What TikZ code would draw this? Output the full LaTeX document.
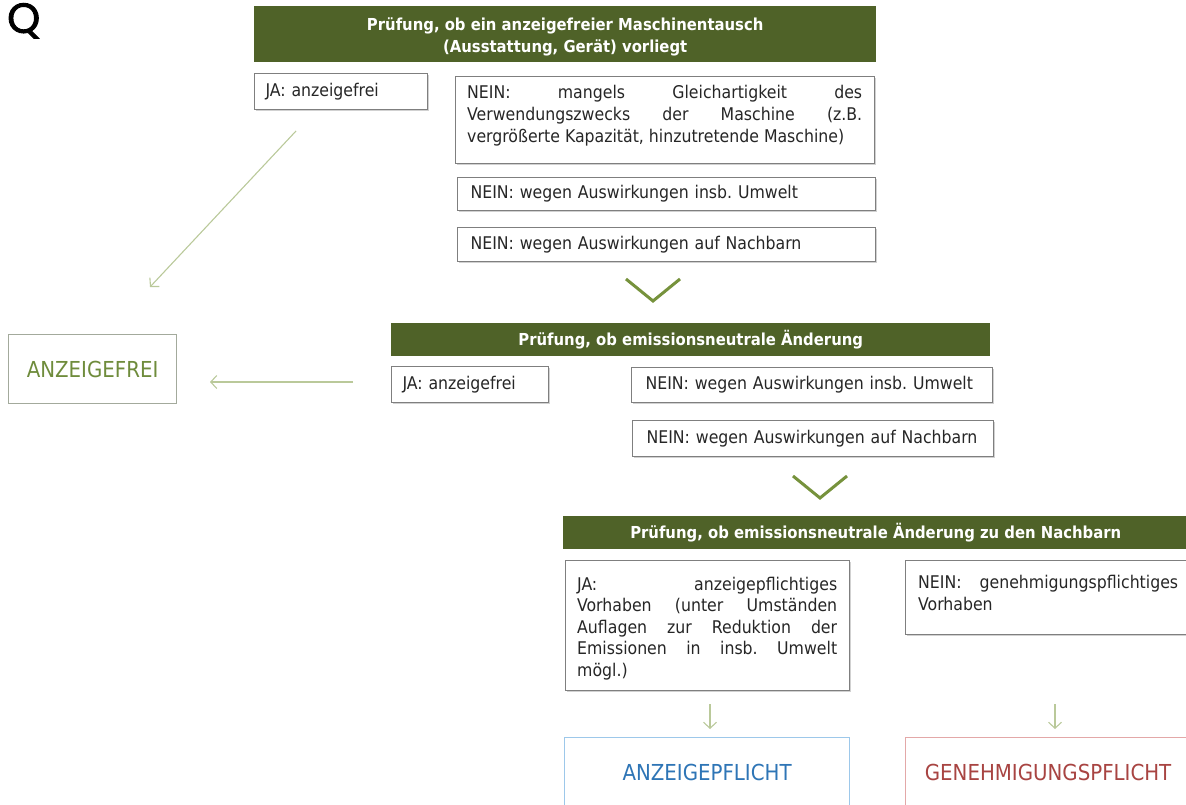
\documentclass[tikz,border=0pt]{standalone}
\usepackage{fontspec}
\setmainfont{DejaVu Sans Condensed}
\newfontfamily\qfamily[FakeBold=2.2]{Poppins}
\usetikzlibrary{arrows.meta,shadows}
\frenchspacing
\definecolor{hdrgreen}{HTML}{4F6228}
\definecolor{chevgreen}{HTML}{76923C}
\definecolor{arrowgreen}{HTML}{BAC99A}
\definecolor{boxgray}{HTML}{7F7F7F}
\definecolor{txtgray}{HTML}{262626}
\definecolor{afborder}{HTML}{A3AA9C}
\definecolor{aftext}{HTML}{6F8C3C}
\definecolor{apborder}{HTML}{9DC8EA}
\definecolor{aptext}{HTML}{2E75B6}
\definecolor{gpborder}{HTML}{E3A8A8}
\definecolor{gptext}{HTML}{A84442}
\newcommand\bfnt{\fontsize{17.5}{22}\selectfont}
\newcommand\jfnt{\fontsize{17.5}{21.5}\selectfont}
\newcommand\hfnt{\bfseries\fontsize{16.5}{22}\selectfont}
\newcommand\bigfnt{\fontsize{22}{26}\selectfont}
\newcommand\qfnt{\qfamily\fontsize{42}{44}\selectfont}
\tikzset{
  hdrbox/.style={fill=hdrgreen, text=white, font=\hfnt, anchor=north west, inner sep=0pt, align=center},
  plainbox/.style={draw=boxgray, line width=1.2pt, fill=white, anchor=north west, inner sep=0pt, text=txtgray,
    general shadow={fill=black!18, shadow xshift=1.5pt, shadow yshift=-1.5pt}},
  linebox/.style={plainbox, font=\bfnt, align=left},
  lbl/.style={font=\bfnt, text=txtgray, anchor=north west, inner sep=0pt, text width=#1, align=justify},
  resultbox/.style={line width=1.2pt, fill=white, anchor=north west, inner sep=0pt, font=\bigfnt, align=center},
  lightarrow/.style={draw=arrowgreen, line width=1.1pt, -{Straight Barb[length=6pt,width=13pt]}},
  chevron/.style={draw=chevgreen, line width=3pt},
}
\begin{document}
\begin{tikzpicture}[x=1pt,y=-1pt]
\useasboundingbox (0,0) rectangle (1186,805);
% Logo letter
\node[anchor=north west, inner sep=0pt, font=\qfnt] (q) at (7,3) {Q};
% Step 1
\node[hdrbox, minimum width=622pt, minimum height=56pt, text depth=0pt] (h1) at (254,6)
  {\rule{0pt}{14pt}Prüfung, ob ein anzeigefreier Maschinentausch\\(Ausstattung, Gerät) vorliegt};
\node[linebox, minimum width=173pt, minimum height=36pt, inner xsep=11pt, text width=151pt] (ja1) at (254,73) {JA: anzeigefrei};
\node[plainbox, minimum width=419pt, minimum height=87pt] (n1) at (455,76) {};
\node[lbl=395pt] (n1t) at (467,85) {NEIN: mangels Gleichartigkeit des\linebreak Verwendungszwecks der Maschine (z.B.\linebreak vergrößerte Kapazität, hinzutretende Maschine)};
\node[linebox, minimum width=418pt, minimum height=33pt, inner xsep=13pt, text width=392pt] (n2) at (457,177) {NEIN: wegen Auswirkungen insb. Umwelt};
\node[linebox, minimum width=418pt, minimum height=34pt, inner xsep=13pt, text width=392pt] (n3) at (457,227) {NEIN: wegen Auswirkungen auf Nachbarn};
\draw[chevron] (626,279) -- (653,301) -- (680,279);
% Result ANZEIGEFREI
\node[resultbox, draw=afborder, text=aftext, minimum width=168pt, minimum height=69pt] (af) at (8,334) {ANZEIGEFREI};
\coordinate (a1s) at (296,131);
\coordinate (a1e) at (150,287);
\draw[lightarrow] (a1s) -- (a1e);
% Step 2
\node[hdrbox, minimum width=599pt, minimum height=33pt] (h2) at (391,323) {Prüfung, ob emissionsneutrale Änderung};
\node[linebox, minimum width=157pt, minimum height=36pt, inner xsep=11pt, text width=135pt] (ja2) at (391,366) {JA: anzeigefrei};
\node[linebox, minimum width=361pt, minimum height=35pt, inner xsep=14pt, text width=333pt] (n4) at (631,367) {NEIN: wegen Auswirkungen insb. Umwelt};
\node[linebox, minimum width=361pt, minimum height=36pt, inner xsep=14pt, text width=333pt] (n5) at (632,420) {NEIN: wegen Auswirkungen auf Nachbarn};
\coordinate (a2s) at (353,382);
\coordinate (a2e) at (210,382);
\draw[lightarrow] (a2s) -- (a2e);
\draw[chevron] (793,476) -- (820,498) -- (847,476);
% Step 3
\node[hdrbox, minimum width=625pt, minimum height=33pt] (h3) at (563,516) {Prüfung, ob emissionsneutrale Änderung zu den Nachbarn};
\node[plainbox, minimum width=284pt, minimum height=130pt] (ja3) at (565,560) {};
\node[lbl=260pt, font=\jfnt] (ja3t) at (577,577) {JA: anzeigepflichtiges\linebreak Vorhaben (unter Umständen\linebreak Auflagen zur Reduktion der\linebreak Emissionen in insb. Umwelt\linebreak mögl.)};
\node[plainbox, minimum width=285pt, minimum height=74pt] (n6) at (905,560) {};
\node[lbl=260pt, font=\jfnt] (n6t) at (918,575) {NEIN: genehmigungspflichtiges\linebreak Vorhaben};
% Results
\node[resultbox, draw=apborder, text=aptext, minimum width=285pt, minimum height=70pt] (ap) at (564,737) {ANZEIGEPFLICHT};
\node[resultbox, draw=gpborder, text=gptext, minimum width=285pt, minimum height=70pt] (gp) at (905,737) {GENEHMIGUNGSPFLICHT};
\coordinate (a3s) at (710,704);
\coordinate (a3e) at (710,729);
\draw[lightarrow] (a3s) -- (a3e);
\coordinate (a4s) at (1055,704);
\coordinate (a4e) at (1055,729);
\draw[lightarrow] (a4s) -- (a4e);
\end{tikzpicture}
\end{document}
